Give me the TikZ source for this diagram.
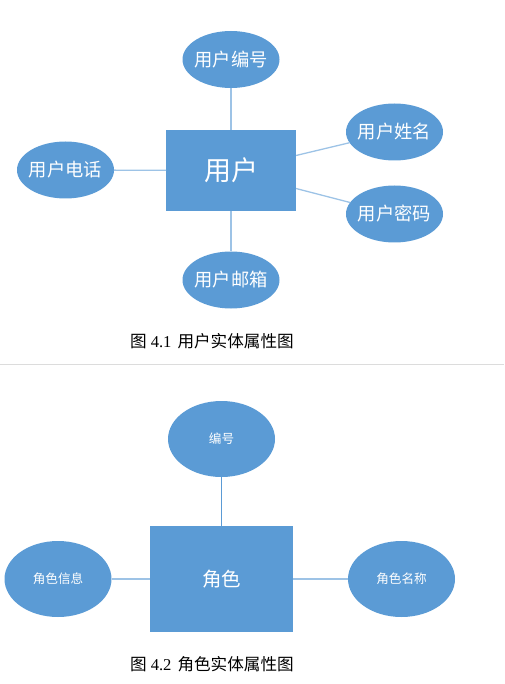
\documentclass[tikz,border=0pt]{standalone}
\usepackage{fontspec}
\setmainfont{Liberation Serif}
\newfontfamily\cjk{Noto Sans CJK SC}
\usetikzlibrary{shapes.geometric}

\definecolor{attrblue}{HTML}{5B9BD5}
\definecolor{linkblue}{HTML}{9DC3E6}
\definecolor{rulegray}{HTML}{DCDCDC}

\begin{document}
\begin{tikzpicture}[
  x=1pt, y=-1pt,
  every node/.style = {inner sep=0pt, outer sep=0pt, align=center},
  Entity/.style = {shape=rectangle, fill=attrblue, text=white},
  Attr/.style = {shape=ellipse, fill=attrblue, text=white},
  AttrTop/.style = {Attr, inner xsep=-3pt, minimum width=97pt, minimum height=57pt,
    font=\cjk\fontsize{18.3}{18.3}\selectfont},
  AttrLow/.style = {Attr, minimum width=107pt, minimum height=76pt,
    font=\cjk\fontsize{12.6}{12.6}\selectfont},
  Link/.style = {linkblue, line width=1.3pt},
  LinkDark/.style = {attrblue, line width=0.8pt},
  Caption/.style = {anchor=west, font=\fontsize{16.6}{16.6}\selectfont}
  ]
  \useasboundingbox (0,0) rectangle (504,684);

  \node[Entity, minimum width=130pt, minimum height=81pt,
    font=\cjk\fontsize{27}{27}\selectfont] (user) at (231,170.5) {用户};
  \node[AttrTop] (userid)    at (231,59.5)  {用户编号};
  \node[AttrTop] (username)  at (394.5,132) {用户姓名};
  \node[AttrTop] (userpwd)   at (394.5,214) {用户密码};
  \node[AttrTop] (userphone) at (65.5,170)  {用户电话};
  \node[AttrTop] (usermail)  at (231,280)   {用户邮箱};

  \draw[Link] (userid) -- (user);
  \draw[Link] (userphone) -- (user);
  \draw[Link] (usermail) -- (user);
  \draw[Link] ([yshift=15pt]user.east) -- (username);
  \draw[Link] ([yshift=-18pt]user.east) -- (userpwd);

  \node[Caption] (cap1) at (130,341) {{\cjk 图}~4.1\hspace{6pt}{\cjk 用户实体属性图}};

  \draw[rulegray, line width=1.6pt] (0,364.5) -- (504,364.5);

  \node[Entity, minimum width=143pt, minimum height=106pt,
    font=\cjk\fontsize{19.5}{19.5}\selectfont] (role) at (221.5,579) {角色};
  \node[AttrLow] (roleid)   at (221.5,439) {编号};
  \node[AttrLow] (roleinfo) at (58,579)    {角色信息};
  \node[AttrLow] (rolename) at (401.5,579) {角色名称};

  \draw[LinkDark] (roleid) -- (role);
  \draw[Link] (roleinfo) -- (role);
  \draw[Link] (rolename) -- (role);

  \node[Caption] (cap2) at (130,664) {{\cjk 图}~4.2\hspace{6pt}{\cjk 角色实体属性图}};
\end{tikzpicture}
\end{document}
